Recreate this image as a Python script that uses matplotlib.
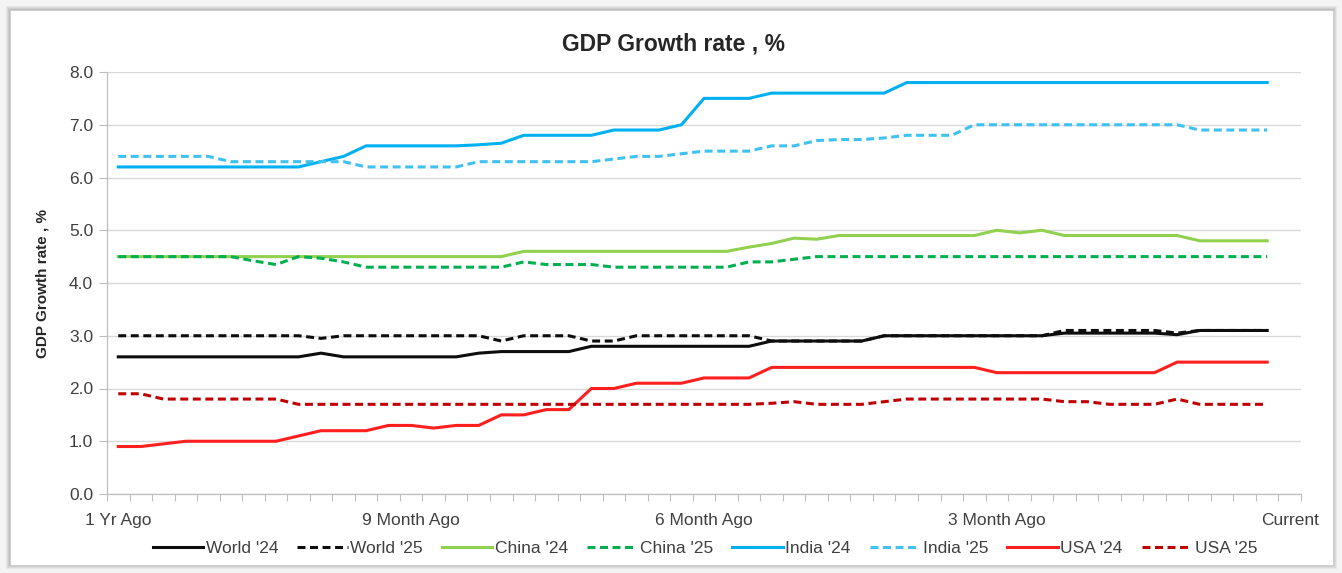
import numpy as np
import matplotlib
matplotlib.use("Agg")
import matplotlib.pyplot as plt
from matplotlib.patches import Rectangle

plt.rcParams['font.family'] = ['Liberation Sans', 'DejaVu Sans']

# weekly points, 1 Yr Ago -> Current
x_labels = ['1 Yr Ago', '9 Month Ago', '6 Month Ago', '3 Month Ago', 'Current']
x_label_pos = [0, 13, 26, 39, 52]

world_24 = [2.6]*9 + [2.67, 2.6] + [2.6]*5 + [2.67, 2.7] + [2.7]*3 + [2.8]*8 + [2.9]*5 + [3.0]*7 \
    + [3.0] + [3.05]*5 + [3.02] + [3.1]*4
world_25 = [3.0]*9 + [2.95] + [3.0]*7 + [2.9] + [3.0]*3 + [2.9, 2.9] + [3.0]*6 + [2.9]*5 + [3.0]*8 \
    + [3.1]*5 + [3.05] + [3.1]*4
china_24 = [4.5]*18 + [4.6]*10 + [4.68, 4.75, 4.85, 4.83] + [4.9]*7 + [5.0, 4.95, 5.0] + [4.9]*6 + [4.8]*4
china_25 = [4.5]*6 + [4.42, 4.35, 4.5, 4.47, 4.4] + [4.3]*7 + [4.4, 4.35, 4.35, 4.35] + [4.3]*6 \
    + [4.4, 4.4, 4.45] + [4.5]*21
india_24 = [6.2]*9 + [6.3, 6.4] + [6.6]*5 + [6.62, 6.65] + [6.8]*4 + [6.9]*3 + [7.0] + [7.5]*3 \
    + [7.6]*6 + [7.8]*17
india_25 = [6.4]*5 + [6.3]*6 + [6.2]*5 + [6.3]*6 + [6.35, 6.4, 6.4, 6.45] + [6.5]*3 + [6.6, 6.6] \
    + [6.7, 6.72, 6.72, 6.75] + [6.8]*3 + [7.0]*10 + [6.9]*4
usa_24 = [0.9, 0.9, 0.95, 1.0] + [1.0]*4 + [1.1] + [1.2]*3 + [1.3, 1.3, 1.25, 1.3, 1.3] + [1.5, 1.5] \
    + [1.6, 1.6] + [2.0, 2.0] + [2.1]*3 + [2.2]*3 + [2.4]*10 + [2.3]*8 + [2.5]*5
usa_25 = [1.9, 1.9] + [1.8]*6 + [1.7]*21 + [1.72, 1.75] + [1.7]*3 + [1.75, 1.8] + [1.8]*6 \
    + [1.75, 1.75] + [1.7]*3 + [1.8] + [1.7]*4

series = [
    ("World '24", world_24, '#0d0d0d', '-'),
    ("World '25", world_25, '#0d0d0d', '--'),
    ("China '24", china_24, '#92d050', '-'),
    ("China '25", china_25, '#00b050', '--'),
    ("India '24", india_24, '#00b0f0', '-'),
    ("India '25", india_25, '#3fc1f2', '--'),
    ("USA '24", usa_24, '#ff1f1f', '-'),
    ("USA '25", usa_25, '#c00000', '--'),
]

fig = plt.figure(figsize=(13.42, 5.73), dpi=100)
fig.patch.set_facecolor('#f4f4f4')

# card with soft shadow
W, H = 1342, 573
for k, a in enumerate([0.05, 0.05, 0.06, 0.08]):
    off = 4 - k
    fig.add_artist(Rectangle(((10 - off) / W, (8 - off) / H), (1323 + 2 * off) / W, (555 + 2 * off) / H,
                             transform=fig.transFigure, facecolor='#000000', alpha=a,
                             edgecolor='none', zorder=-3))
fig.add_artist(Rectangle((10 / W, 8 / H), 1323 / W, 555 / H, transform=fig.transFigure,
                         facecolor='white', edgecolor='#d0d0d0', lw=0.8, zorder=-2))

ax = fig.add_axes([107 / W, 1 - 494 / H, (1301 - 107) / W, (494 - 72) / H])
ax.set_zorder(1)
ax.set_facecolor('white')

x = np.arange(len(world_24))
for name, vals, col, ls in series:
    if ls == '--':
        ax.plot(x, vals, color=col, lw=2.2, ls=(0, (2.6, 1.5)), label=name, zorder=3)
    else:
        ax.plot(x, vals, color=col, lw=2.2, label=name, zorder=3)

ax.set_xlim(-0.5, 52.5)
ax.set_ylim(0, 8)
ax.set_yticks(np.arange(0, 8.1, 1))
ax.set_yticklabels([f'{v:.1f}' for v in np.arange(0, 8.1, 1)])
ax.set_xticks(x_label_pos)
ax.set_xticklabels(x_labels)
ax.set_xticks(np.arange(-0.5, 53, 1), minor=True)
ax.tick_params(axis='x', which='major', length=0, pad=14, labelsize=12.5, labelcolor='#404040')
ax.tick_params(axis='x', which='minor', length=5, color='#bfbfbf', width=0.8)
ax.tick_params(axis='y', length=6, color='#bfbfbf', width=0.8, labelsize=12.5, labelcolor='#404040', pad=4)

ax.grid(axis='y', color='#d9d9d9', lw=1)
ax.set_axisbelow(True)
for s in ['top', 'right']:
    ax.spines[s].set_visible(False)
for s in ['left', 'bottom']:
    ax.spines[s].set_color('#bfbfbf')
    ax.spines[s].set_linewidth(0.9)

ax.set_ylabel('GDP Growth rate , %', fontsize=11, fontweight='bold', color='#262626', labelpad=14)
fig.text(673 / W, 1 - 44 / H, 'GDP Growth rate , %', ha='center', va='center',
         fontsize=16.5, fontweight='bold', color='#262626')

fig.legend(loc='center', bbox_to_anchor=(705 / W, 1 - 548 / H), ncol=8, frameon=False,
           fontsize=12.5, handlelength=2.9, handletextpad=0.15, columnspacing=1.1,
           labelcolor='#404040')

fig.savefig('out.png', dpi=100, facecolor=fig.get_facecolor())
